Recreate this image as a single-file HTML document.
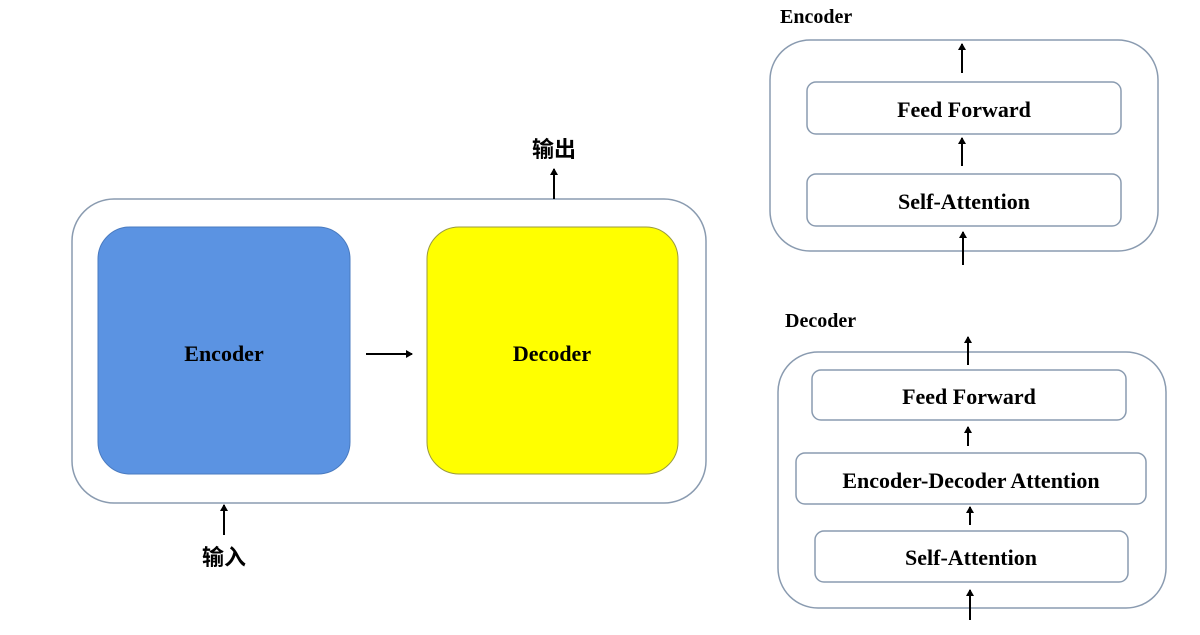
<!DOCTYPE html>
<html><head><meta charset="utf-8"><style>
body{margin:0;width:1200px;height:630px;background:#fff;overflow:hidden}
</style></head><body>
<svg width="1200" height="630" xmlns="http://www.w3.org/2000/svg" font-family="'Liberation Serif','Noto Serif CJK SC',serif" font-weight="bold">
<defs><marker id="a" markerWidth="8" markerHeight="8" refX="6" refY="4" orient="auto" markerUnits="userSpaceOnUse"><path d="M0,0 L7,4 L0,8 z" fill="#000"/></marker></defs>
<g fill="none" stroke="#8a9bb0" stroke-width="1.5">
<rect x="72" y="199" width="634" height="304" rx="42"/>
<rect x="770" y="40" width="388" height="211" rx="40"/>
<rect x="807" y="82" width="314" height="52" rx="9"/>
<rect x="807" y="174" width="314" height="52" rx="9"/>
<rect x="778" y="352" width="388" height="256" rx="40"/>
<rect x="812" y="370" width="314" height="50" rx="9"/>
<rect x="796" y="453" width="350" height="51" rx="9"/>
<rect x="815" y="531" width="313" height="51" rx="9"/>
</g>
<rect x="98" y="227" width="252" height="247" rx="32" fill="#5b93e2" stroke="#4a7bc0"/>
<rect x="427" y="227" width="251" height="247" rx="32" fill="#ffff00" stroke="#9a9a40"/>
<g stroke="#000" stroke-width="2" marker-end="url(#a)">
<line x1="366" y1="354" x2="412" y2="354"/>
<line x1="554" y1="199" x2="554" y2="169"/>
<line x1="224" y1="535" x2="224" y2="505"/>
<line x1="962" y1="73" x2="962" y2="44"/>
<line x1="962" y1="166" x2="962" y2="138"/>
<line x1="963" y1="265" x2="963" y2="232"/>
<line x1="968" y1="365" x2="968" y2="337"/>
<line x1="968" y1="446" x2="968" y2="427"/>
<line x1="970" y1="525" x2="970" y2="507"/>
<line x1="970" y1="620" x2="970" y2="590"/>
</g>
<g font-size="22" text-anchor="middle" fill="#000">
<text x="224" y="361">Encoder</text>
<text x="552" y="361">Decoder</text>
<text x="964" y="117">Feed Forward</text>
<text x="964" y="209">Self-Attention</text>
<text x="969" y="404">Feed Forward</text>
<text x="971" y="488">Encoder-Decoder Attention</text>
<text x="971" y="565">Self-Attention</text>
<text x="554" y="157" font-family="'Noto Sans CJK SC',sans-serif">输出</text>
<text x="224" y="565" font-family="'Noto Sans CJK SC',sans-serif">输入</text>
</g>
<g font-size="20" fill="#000">
<text x="780" y="23">Encoder</text>
<text x="785" y="327">Decoder</text>
</g>
</svg>
</body></html>
